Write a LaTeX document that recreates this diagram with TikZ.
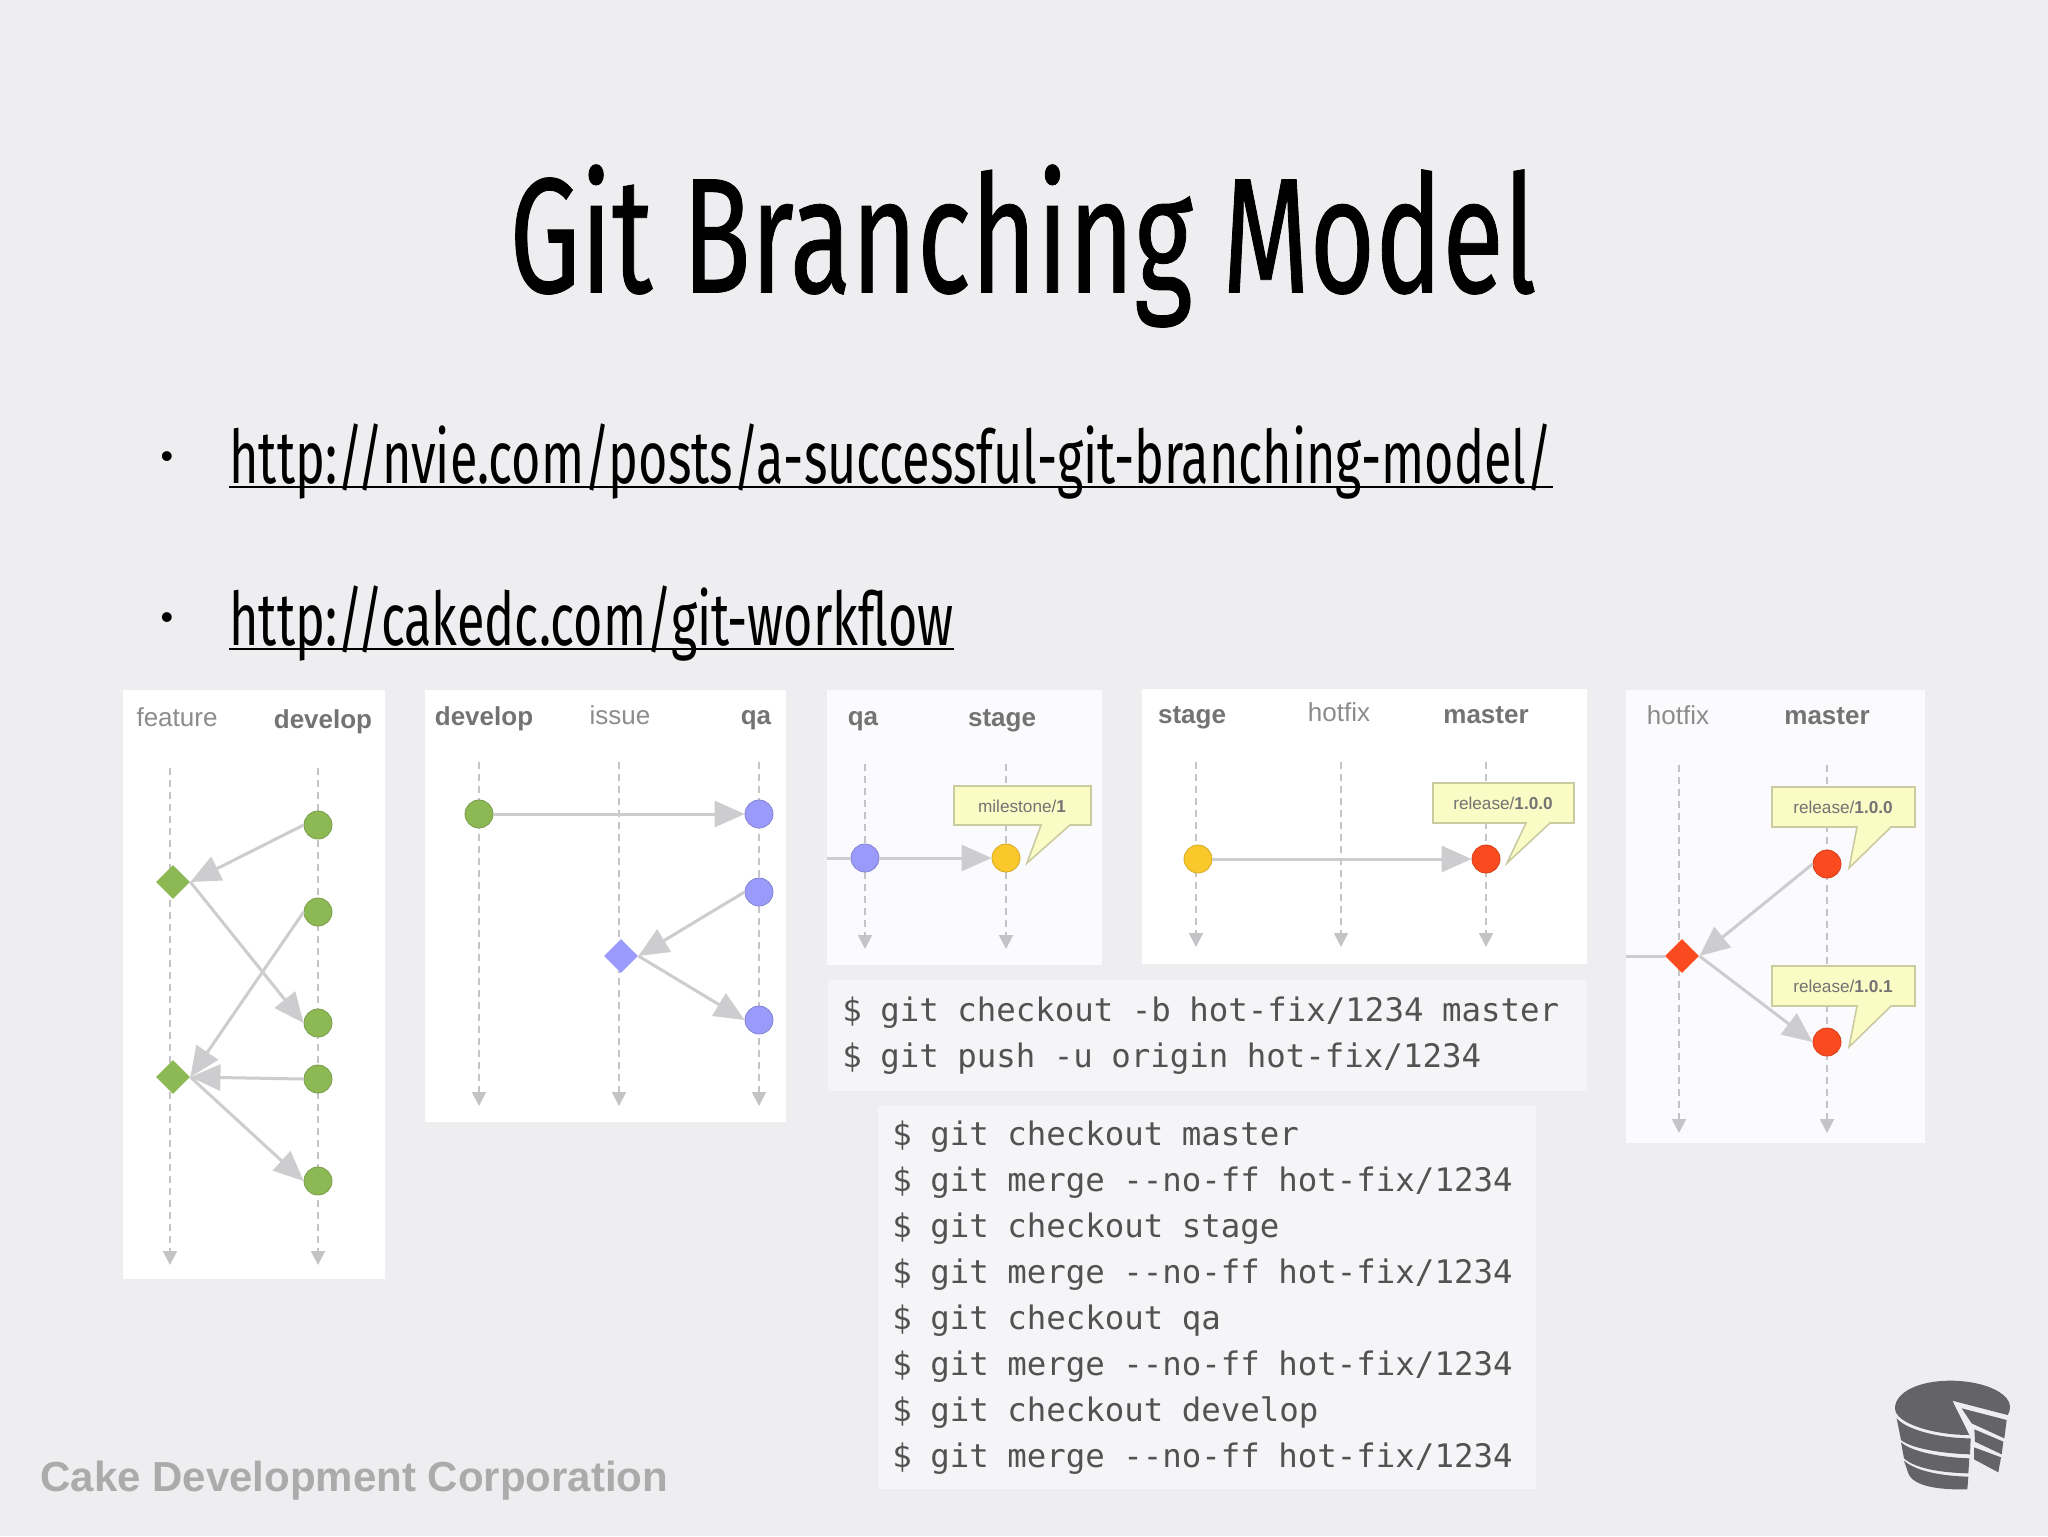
\documentclass[tikz,border=0pt]{standalone}
\usepackage{fontspec}
\setmainfont{Liberation Sans}
\newfontfamily\slidefont[FakeStretch=0.68]{Fira Sans}
\newfontfamily\titlefont[FakeStretch=0.685,FakeBold=0.5]{Fira Sans}
\newfontfamily\codefont{DejaVu Sans Mono}
\newcommand\cgap{\hspace{3.85pt}}
\usetikzlibrary{arrows.meta,positioning,shapes.geometric}

\definecolor{slidebg}{HTML}{EEEEF0}
\definecolor{codebg}{HTML}{F5F5F7}
\definecolor{softpanel}{HTML}{FBFBFD}
\definecolor{flowgray}{HTML}{CDCDCF}
\definecolor{lanegray}{HTML}{C4C4C6}
\definecolor{leaf}{HTML}{8DB955}
\definecolor{lilac}{HTML}{9A9AFB}
\definecolor{amber}{HTML}{FBC82C}
\definecolor{flame}{HTML}{FA4A20}
\definecolor{notefill}{HTML}{FBFBC6}
\definecolor{notedraw}{HTML}{CBCBA2}
\definecolor{logogray}{HTML}{646468}

\begin{document}
\begin{tikzpicture}[x=0.5pt,y=-0.5pt,>={Triangle[length=15pt,width=13pt]}]
  \tikzstyle{commit}=[circle,draw=#1!85!black,fill=#1,line width=0.4pt,minimum size=14pt,inner sep=0pt]
  \tikzstyle{merge}=[diamond,fill=#1,minimum size=17pt,inner sep=0pt]
  \tikzstyle{flow}=[->,color=flowgray,line width=1.5pt]
  \tikzstyle{lane}=[draw=lanegray,line width=0.9pt,dash pattern=on 3.5pt off 2.5pt,-{Triangle[length=7pt,width=7pt]}]
  \tikzstyle{branch}=[font=\fontsize{13}{13}\selectfont,text=black!45]
  \tikzstyle{mainbranch}=[font=\bfseries\fontsize{13}{13}\selectfont,text=black!55]
  \tikzstyle{note}=[fill=notefill,draw=notedraw,line width=0.8pt,line join=miter]
  \tikzstyle{notetext}=[inner sep=0pt,font=\fontsize{8.6}{10}\selectfont,text=black!55]
  \tikzstyle{codebox}=[fill=codebg,anchor=north west,inner xsep=7pt,inner ysep=0pt,align=left,font=\codefont\fontsize{16.2}{23}\selectfont,text=black!68]
  \tikzstyle{linkline}=[font=\slidefont\fontsize{37}{37}\selectfont,anchor=base west,inner sep=0pt]

  \useasboundingbox (0,0) rectangle (2048,1536);
  \fill[slidebg] (0,0) rectangle (2048,1536);

  % panels
  \foreach \xa/\ya/\xb/\yb in {123/690/385/1279,425/690/786/1122,1142/689/1587/964}
    \fill[white] (\xa,\ya) rectangle (\xb,\yb);
  \foreach \xa/\ya/\xb/\yb in {827/690/1102/965,1626/690/1925/1143}
    \fill[softpanel] (\xa,\ya) rectangle (\xb,\yb);

  % dashed lanes
  \foreach \lanename/\x/\ya/\yb in {feat/170/768/1265,devA/318/768/1265,devB/479/762/1106,iss/619/762/1106,qaA/759/762/1106,qaB/865/764/949,stgA/1006/764/949,stgB/1196/762/947,hotA/1341/762/947,mstA/1486/762/947,hotB/1679/765/1133,mstB/1827/765/1133}{
    \coordinate (top\lanename) at (\x,\ya);
    \coordinate (end\lanename) at (\x,\yb);
    \draw[lane] (top\lanename) -- (end\lanename);
  }

  % branch names
  \node[branch] (lblfeat) at (177,717) {feature};
  \node[mainbranch] (lbldevA) at (323,722) {develop};
  \node[mainbranch] (lbldevB) at (484,719) {develop};
  \node[branch] (lbliss) at (620,715) {issue};
  \node[mainbranch] (lblqaA) at (756,720) {qa};
  \node[mainbranch] (lblqaB) at (863,721) {qa};
  \node[mainbranch] (lblstgA) at (1002,721) {stage};
  \node[mainbranch] (lblstgB) at (1192,718) {stage};
  \node[branch] (lblhotA) at (1339,712) {hotfix};
  \node[mainbranch] (lblmstA) at (1486,715) {master};
  \node[branch] (lblhotB) at (1678,715) {hotfix};
  \node[mainbranch] (lblmstB) at (1827,716) {master};

  % feature / develop
  \node[commit=leaf] (d1) at (318,825) {};
  \node[commit=leaf] (d2) at (318,912) {};
  \node[commit=leaf] (d3) at (318,1023) {};
  \node[commit=leaf] (d4) at (318,1079) {};
  \node[commit=leaf] (d5) at (318,1181) {};
  \node[merge=leaf] (f1) at (173,882) {};
  \node[merge=leaf] (f2) at (173,1077) {};
  \path[flow]
  (d1.west) edge (f1.east)
  (f1.east) edge (d3.west)
  (d2.west) edge (f2.east)
  (d4.west) edge (f2.east)
  (f2.east) edge (d5.west);

  % develop / issue / qa
  \node[commit=leaf] (d6) at (479,814) {};
  \node[commit=lilac] (q1) at (759,814) {};
  \node[commit=lilac] (q2) at (759,892) {};
  \node[commit=lilac] (q3) at (759,1020) {};
  \node[merge=lilac] (i1) at (621,956) {};
  \path[flow]
  (d6) edge (q1)
  (q2.west) edge (i1.east)
  (i1.east) edge (q3.west);

  % qa / stage
  \coordinate (inqa) at (827,858);
  \node[commit=lilac] (q4) at (865,858) {};
  \node[commit=amber] (s1) at (1006,858) {};
  \draw[flow,-] (inqa) -- (q4);
  \draw[flow] (q4) -- (s1);
  \draw[note] (954,786) -- (1091,786) -- (1091,825) -- (1070,825) -- (1027,863) -- (1041,825) -- (954,825) -- cycle;
  \node[notetext] (ms1) at (1022,806) {milestone/\textbf{1}};

  % stage / hotfix / master
  \node[commit=amber] (s2) at (1198,859) {};
  \node[commit=flame] (m1) at (1486,859) {};
  \draw[flow] (s2) -- (m1);
  \draw[note] (1433,783) -- (1574,783) -- (1574,823) -- (1550,823) -- (1507,863) -- (1526,823) -- (1433,823) -- cycle;
  \node[notetext] (rel1) at (1503,803) {release/\textbf{1.0.0}};

  % hotfix / master
  \coordinate (inhot) at (1626,956);
  \node[merge=flame] (h1) at (1682,956) {};
  \node[commit=flame] (m2) at (1827,864) {};
  \node[commit=flame] (m3) at (1827,1042) {};
  \draw[flow,-] (inhot) -- (h1);
  \path[flow]
  (m2.west) edge (h1.east)
  (h1.east) edge (m3.west);
  \draw[note] (1772,787) -- (1915,787) -- (1915,827) -- (1891,827) -- (1849,868) -- (1857,827) -- (1772,827) -- cycle;
  \node[notetext] (rel2) at (1843,807) {release/\textbf{1.0.0}};
  \draw[note] (1772,966) -- (1915,966) -- (1915,1006) -- (1891,1006) -- (1849,1047) -- (1857,1006) -- (1772,1006) -- cycle;
  \node[notetext] (rel3) at (1843,986) {release/\textbf{1.0.1}};

  % commands
  \node[codebox,text width=365.5pt,minimum height=55.5pt] (cmdA) at (828,980) {\$ \cgap git \cgap checkout \cgap -b \cgap hot-fix/1234 \cgap master\\\$ \cgap git \cgap push \cgap -u \cgap origin \cgap hot-fix/1234};
  \node[codebox,text width=315pt,minimum height=191.5pt] (cmdB) at (878,1106) {\$ \cgap git \cgap checkout \cgap master\\\$ \cgap git \cgap merge \cgap -{}-no-ff \cgap hot-fix/1234\\\$ \cgap git \cgap checkout \cgap stage\\\$ \cgap git \cgap merge \cgap -{}-no-ff \cgap hot-fix/1234\\\$ \cgap git \cgap checkout \cgap qa\\\$ \cgap git \cgap merge \cgap -{}-no-ff \cgap hot-fix/1234\\\$ \cgap git \cgap checkout \cgap develop\\\$ \cgap git \cgap merge \cgap -{}-no-ff \cgap hot-fix/1234};

  % title, links, footer
  \node[font=\titlefont\fontsize{82}{82}\selectfont] (title) at (1023,246) {Git Branching Model};
  \node[font=\fontsize{18}{18}\selectfont] (bulA) at (167,460) {•};
  \node[font=\fontsize{18}{18}\selectfont] (bulB) at (167,621) {•};
  \node[linkline] (linkA) at (229,483) {http://nvie.com/posts/a-successful-git-branching-model/};
  \node[linkline] (linkB) at (229,645) {http://cakedc.com/git-workflow};
  \draw[line width=1.3pt] ([yshift=-2pt]linkA.base west) -- ([yshift=-2pt]linkA.base east);
  \draw[line width=1.3pt] ([yshift=-2pt]linkB.base west) -- ([yshift=-2pt]linkB.base east);
  \node[font=\bfseries\fontsize{21}{21}\selectfont,text=black!33,anchor=west,inner sep=0pt] (footer) at (40,1481) {Cake Development Corporation};

  % logo
  \begin{scope}[shift={(1840,1340)},scale=0.3333,fill=logogray]
    \fill (337,182) -- (503,225) .. controls (512,212) and (514,190) .. (500,175) .. controls (470,140) and (400,122) .. (330,122) .. controls (240,122) and (165,155) .. (165,205) .. controls (165,250) and (280,285) .. (388,285) -- cycle;
    \fill (170,235) .. controls (200,270) and (300,295) .. (392,295) -- (390,343) .. controls (300,340) and (215,325) .. (183,300) -- cycle;
    \fill (183,307) .. controls (215,335) and (300,352) .. (388,355) -- (385,400) .. controls (300,398) and (225,385) .. (192,355) -- cycle;
    \fill (192,362) .. controls (225,392) and (300,408) .. (385,410) -- (382,448) .. controls (300,450) and (220,440) .. (205,400) -- cycle;
    \fill (365,205) -- (500,240) -- (493,295) -- (395,250) -- cycle;
    \fill (403,268) -- (490,305) -- (485,343) -- (405,305) -- cycle;
    \fill (402,322) -- (483,352) -- (475,397) -- (402,358) -- cycle;
  \end{scope}
\end{tikzpicture}
\end{document}
